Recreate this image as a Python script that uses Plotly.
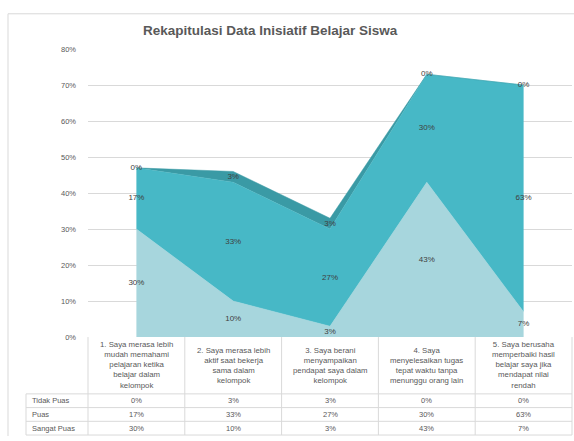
import plotly.graph_objects as go

W, H = 574, 441

categories = [
    "1. Saya merasa lebih<br>mudah memahami<br>pelajaran ketika<br>belajar dalam<br>kelompok",
    "2. Saya merasa lebih<br>aktif saat bekerja<br>sama dalam<br>kelompok",
    "3. Saya berani<br>menyampaikan<br>pendapat saya dalam<br>kelompok",
    "4. Saya<br>menyelesaikan tugas<br>tepat waktu tanpa<br>menunggu orang lain",
    "5. Saya berusaha<br>memperbaiki hasil<br>belajar saya jika<br>mendapat nilai<br>rendah",
]
series_names = ["Tidak Puas", "Puas", "Sangat Puas"]
tidak_puas = [0, 3, 3, 0, 0]
puas = [17, 33, 27, 30, 63]
sangat_puas = [30, 10, 3, 43, 7]
y_ticks = [0, 10, 20, 30, 40, 50, 60, 70, 80]

colors = {"Sangat Puas": "#A7D6DD", "Puas": "#47B8C6", "Tidak Puas": "#3A9AA5"}
text_col = "#595959"
grid_col = "#D9D9D9"
FONT = "Liberation Sans"

def px(x):
    return x / W

def py(y):
    return 1 - y / H

xs = list(range(len(categories)))
fig = go.Figure()

stack_order = [("Sangat Puas", sangat_puas), ("Puas", puas), ("Tidak Puas", tidak_puas)]
base = [0] * len(xs)
label_x, label_y, label_t = [], [], []
for name, vals in stack_order:
    fig.add_trace(go.Scatter(
        x=xs, y=vals, name=name, stackgroup="one", mode="lines",
        line=dict(width=0.5, color=colors[name]), fillcolor=colors[name],
        hoverinfo="skip", showlegend=False))
    for i, v in enumerate(vals):
        label_x.append(i)
        label_y.append(base[i] + v / 2)
        label_t.append(f"{v}%")
    base = [b + v for b, v in zip(base, vals)]

fig.add_trace(go.Scatter(
    x=label_x, y=label_y, text=label_t, mode="text",
    textfont=dict(family=FONT, size=8, color="#404040"),
    hoverinfo="skip", showlegend=False))

x_left, x_right = 88, 572
y_top, y_bot = 46, 340

shapes = []
annotations = []

# chart frame
shapes.append(dict(type="line", xref="paper", yref="paper", x0=px(8), x1=1, y0=py(10), y1=py(10),
                   line=dict(color=grid_col, width=1)))
shapes.append(dict(type="line", xref="paper", yref="paper", x0=px(8), x1=px(8), y0=py(10), y1=0,
                   line=dict(color=grid_col, width=1)))

# data table
col_w = (x_right - x_left) / len(categories)
row_lines = [398, 412, 426, 440]
for yy in row_lines:
    shapes.append(dict(type="line", xref="paper", yref="paper", x0=px(26), x1=px(x_right),
                       y0=py(yy), y1=py(yy), line=dict(color=grid_col, width=1)))
for k in range(len(categories) + 1):
    xx = x_left + k * col_w
    shapes.append(dict(type="line", xref="paper", yref="paper", x0=px(xx), x1=px(xx),
                       y0=py(y_bot), y1=py(440), line=dict(color=grid_col, width=1)))
shapes.append(dict(type="line", xref="paper", yref="paper", x0=px(26), x1=px(26),
                   y0=py(398), y1=py(440), line=dict(color=grid_col, width=1)))

for i, cat in enumerate(categories):
    cx = x_left + (i + 0.5) * col_w
    annotations.append(dict(xref="paper", yref="paper", x=px(cx), y=py(369), text=cat,
                            showarrow=False, xanchor="center", yanchor="middle", align="center",
                            font=dict(family=FONT, size=7.8, color=text_col)))

row_data = [("Tidak Puas", tidak_puas), ("Puas", puas), ("Sangat Puas", sangat_puas)]
for r, (name, vals) in enumerate(row_data):
    cy = (row_lines[r] + row_lines[r + 1]) / 2
    annotations.append(dict(xref="paper", yref="paper", x=px(30), y=py(cy), text=name,
                            showarrow=False, xanchor="left", yanchor="middle",
                            font=dict(family=FONT, size=7.5, color=text_col)))
    for i, v in enumerate(vals):
        cx = x_left + (i + 0.5) * col_w
        annotations.append(dict(xref="paper", yref="paper", x=px(cx), y=py(cy), text=f"{v}%",
                                showarrow=False, xanchor="center", yanchor="middle",
                                font=dict(family=FONT, size=7.5, color=text_col)))

annotations.append(dict(xref="paper", yref="paper", x=px(270), y=py(27),
                        text="<b>Rekapitulasi Data Inisiatif Belajar Siswa</b>",
                        showarrow=False, xanchor="center", yanchor="middle",
                        font=dict(family=FONT, size=13.5, color=text_col)))

fig.update_layout(
    width=W, height=H,
    margin=dict(l=0, r=0, t=0, b=0),
    paper_bgcolor="white", plot_bgcolor="white",
    shapes=shapes, annotations=annotations,
    xaxis=dict(domain=[px(x_left), px(x_right)], range=[-0.5, len(categories) - 0.5],
               showgrid=False, zeroline=False, showticklabels=False, showline=False),
    yaxis=dict(domain=[py(y_bot), py(y_top)], range=[0, 80], tickvals=y_ticks,
               ticktext=[f"{t}%" for t in y_ticks], showgrid=True, gridcolor=grid_col,
               gridwidth=1, zeroline=False, showline=False, ticks="",
               ticklabelstandoff=11,
               tickfont=dict(family=FONT, size=7.5, color=text_col)),
)

fig.write_html("out.html")
